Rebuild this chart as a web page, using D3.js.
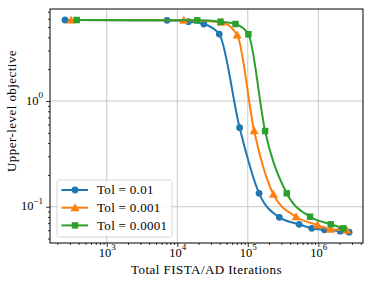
<!DOCTYPE html>
<html>
<head>
<meta charset="utf-8">
<script src="https://cdn.jsdelivr.net/npm/d3@7"></script>
<style>
body{margin:0;background:#fff}
svg{display:block}
</style>
</head>
<body>
<svg id="chart"></svg>
<script>
// values
const blueIters = [256, 7160, 14400, 23800, 39400, 76600, 144500, 280000, 535000, 809000, 1220000, 2040000, 2730000]
const blueObj   = [5.84, 5.80, 5.63, 5.35, 4.30, 0.559, 0.134, 0.0794, 0.0682, 0.0625, 0.0605, 0.0588, 0.0575]
const orangeIters = [312, 12400, 42000, 70800, 123000, 231000, 484000, 971000, 1470000, 2540000]
const orangeObj   = [5.84, 5.80, 5.56, 4.21, 0.523, 0.131, 0.0804, 0.0671, 0.0611, 0.0598]
const greenIters = [375, 19200, 41100, 67000, 102000, 176000, 357000, 765000, 1500000, 2270000]
const greenObj   = [5.84, 5.80, 5.63, 5.35, 4.28, 0.52, 0.134, 0.0804, 0.0682, 0.0625]
const seriesNames = ['Tol = 0.01', 'Tol = 0.001', 'Tol = 0.0001']
const xTicks = [1e3, 1e4, 1e5, 1e6]
const yTicks = [1e-1, 1e0]

const W = 373, H = 283
const mrgn = {top: 9, right: 10, bottom: 40, left: 50}
const font = 'Liberation Serif'

const series = [
	{name: seriesNames[0], xs: blueIters, ys: blueObj, col: '#1f77b4', mark: 'circle'},
	{name: seriesNames[1], xs: orangeIters, ys: orangeObj, col: '#ff7f0e', mark: 'triangle'},
	{name: seriesNames[2], xs: greenIters, ys: greenObj, col: '#2ca02c', mark: 'square'},
]

const svg = d3.select('#chart').attr('width', W).attr('height', H)
	.attr('font-family', font)

const x = d3.scaleLog().domain([157, 4.3e6]).range([mrgn.left, W - mrgn.right])
const y = d3.scaleLog().domain([0.0454, 7.42]).range([H - mrgn.bottom, mrgn.top])

// minor tick values
const minors = (lo, hi) => {
	let out = []
	for (let e = Math.floor(Math.log10(lo)); e <= Math.ceil(Math.log10(hi)); e++) {
		for (let m = 2; m <= 9; m++) {
			const v = m * Math.pow(10, e)
			if (v >= lo && v <= hi) out.push(v)
		}
	}
	return out
}

// grid
const grid = svg.append('g')
grid.selectAll('.gx').data(xTicks).enter().append('line')
	.attr('x1', d => x(d)).attr('x2', d => x(d))
	.attr('y1', mrgn.top).attr('y2', H - mrgn.bottom)
	.attr('stroke', '#c8c8c8').attr('stroke-width', 1)
grid.selectAll('.gy').data(yTicks).enter().append('line')
	.attr('x1', mrgn.left).attr('x2', W - mrgn.right)
	.attr('y1', d => y(d)).attr('y2', d => y(d))
	.attr('stroke', '#c8c8c8').attr('stroke-width', 1)

// lines + markers
const line = d3.line().curve(d3.curveMonotoneX)
const sym = {circle: d3.symbolCircle, triangle: d3.symbolTriangle, square: d3.symbolSquare}
const symSize = {circle: 36, triangle: 36, square: 42}

const plot = svg.append('g')
series.forEach(s => {
	const pts = s.xs.map((v, i) => [x(v), y(s.ys[i])])
	plot.append('path')
		.attr('d', line(pts))
		.attr('fill', 'none')
		.attr('stroke', s.col)
		.attr('stroke-width', 2)
	plot.selectAll(null).data(pts).enter().append('path')
		.attr('d', d3.symbol().type(sym[s.mark]).size(symSize[s.mark]))
		.attr('transform', d => `translate(${d[0]},${d[1] + (s.mark == 'triangle' ? 0.8 : 0)})`)
		.attr('fill', s.col)
})

// axes
const sup = (sel, fmt) => {
	sel.selectAll('.tick text').each(function(d) {
		const t = d3.select(this).text('')
		t.append('tspan').text('10').attr('font-size', 12.5)
		t.append('tspan').text(fmt(d)).attr('font-size', 9).attr('dy', '-0.75em')
	})
}

const xAx = svg.append('g').attr('transform', `translate(0,${H - mrgn.bottom})`)
	.call(d3.axisBottom(x).tickValues(xTicks).tickSize(4).tickPadding(3).tickFormat(() => ''))
xAx.call(g => sup(g, d => Math.round(Math.log10(d))))
const xMin = svg.append('g').attr('transform', `translate(0,${H - mrgn.bottom})`)
	.call(d3.axisBottom(x).tickValues(minors(157, 4.3e6)).tickSize(2).tickFormat(() => ''))

const yAx = svg.append('g').attr('transform', `translate(${mrgn.left},0)`)
	.call(d3.axisLeft(y).tickValues(yTicks).tickSize(4).tickPadding(3).tickFormat(() => ''))
yAx.call(g => sup(g, d => { const e = Math.round(Math.log10(d)); return e < 0 ? '\u2212' + (-e) : e }))
const yMin = svg.append('g').attr('transform', `translate(${mrgn.left},0)`)
	.call(d3.axisLeft(y).tickValues(minors(0.0454, 7.42)).tickSize(2).tickFormat(() => ''))

svg.selectAll('.domain').remove()
svg.selectAll('.tick line').attr('stroke', '#000').attr('stroke-width', 0.8)
svg.selectAll('.tick text').attr('fill', '#000').attr('font-family', font)

// frame
svg.append('rect')
	.attr('x', mrgn.left).attr('y', mrgn.top)
	.attr('width', W - mrgn.left - mrgn.right).attr('height', H - mrgn.top - mrgn.bottom)
	.attr('fill', 'none').attr('stroke', '#000').attr('stroke-width', 1)

// labels
svg.append('text')
	.attr('x', (mrgn.left + W - mrgn.right) / 2).attr('y', 274)
	.attr('text-anchor', 'middle').attr('font-size', 13).attr('letter-spacing', 0.45)
	.text('Total FISTA/AD Iterations')
svg.append('text')
	.attr('transform', `translate(16,${(mrgn.top + H - mrgn.bottom) / 2 - 15}) rotate(-90)`)
	.attr('text-anchor', 'middle').attr('font-size', 13).attr('letter-spacing', 0.45)
	.text('Upper-level objective')

// legend
const lg = svg.append('g').attr('transform', 'translate(57,180)')
lg.append('rect')
	.attr('width', 115).attr('height', 57).attr('rx', 2.5)
	.attr('fill', '#fff').attr('fill-opacity', 0.8)
	.attr('stroke', '#cccccc').attr('stroke-width', 0.8)
const rows = lg.selectAll('.row').data(series).enter().append('g')
	.attr('transform', (d, i) => `translate(0,${10 + i * 17.7})`)
rows.append('line')
	.attr('x1', 4.5).attr('x2', 31)
	.attr('stroke', d => d.col).attr('stroke-width', 2)
rows.append('path')
	.attr('d', d => d3.symbol().type(sym[d.mark]).size(symSize[d.mark])())
	.attr('transform', d => `translate(18,${d.mark == 'triangle' ? 0.8 : 0})`)
	.attr('fill', d => d.col)
rows.append('text')
	.attr('x', 40).attr('y', 4.3)
	.attr('font-size', 13).attr('letter-spacing', 0.3)
	.text(d => d.name)
</script>
</body>
</html>
